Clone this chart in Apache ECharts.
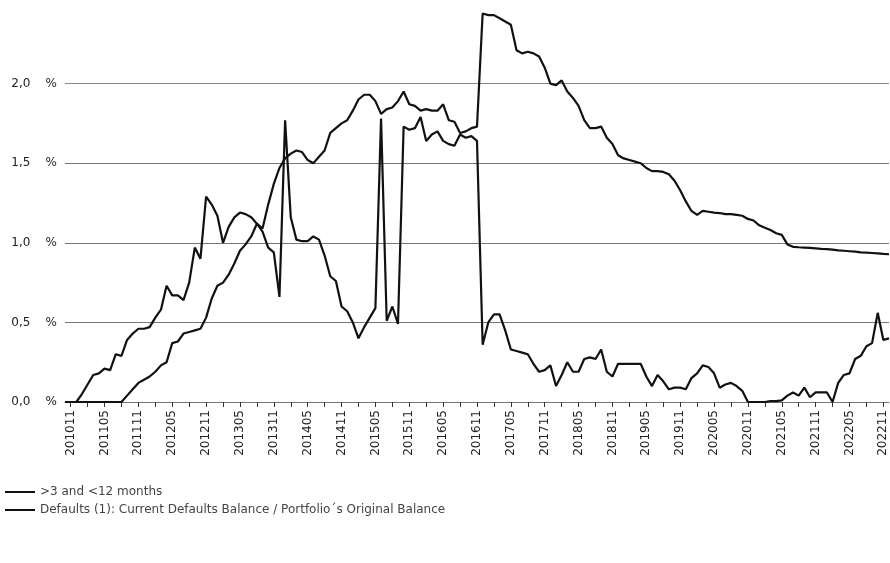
<!DOCTYPE html>
<html>
<head>
<meta charset="utf-8">
<script src="https://cdn.jsdelivr.net/npm/echarts@6/dist/echarts.min.js"></script>
<style>
  html, body { margin: 0; padding: 0; background: #fff; }
  #chart { width: 890px; height: 563px; }
</style>
</head>
<body>
<div id="chart"></div>
<script>
// Monthly reporting periods, 2010-10 .. 2022-12
const months = [];
for (let y = 2010, m = 10; y < 2023; ) {
  months.push(String(y) + String(m).padStart(2, '0'));
  m++; if (m > 12) { m = 1; y++; }
}

const seriesNames = ['>3 and <12 months', 'Defaults (1): Current Defaults Balance / Portfolio´s Original Balance'];

// Arrears between 3 and 12 months, % of portfolio
const arrears3to12 = [
  0, 0, 0, 0.05, 0.11, 0.17, 0.18, 0.21, 0.20, 0.30,
  0.29, 0.39, 0.43, 0.46, 0.46, 0.47, 0.53, 0.58, 0.73, 0.67,
  0.67, 0.64, 0.75, 0.97, 0.90, 1.29, 1.24, 1.17, 1.00, 1.10,
  1.16, 1.19, 1.18, 1.16, 1.12, 1.07, 0.97, 0.94, 0.66, 1.77,
  1.16, 1.02, 1.01, 1.01, 1.04, 1.02, 0.92, 0.79, 0.76, 0.60,
  0.57, 0.50, 0.40, 0.47, 0.53, 0.59, 1.78, 0.51, 0.60, 0.49,
  1.73, 1.71, 1.72, 1.79, 1.64, 1.68, 1.70, 1.64, 1.62, 1.61,
  1.68, 1.66, 1.67, 1.64, 0.36, 0.50, 0.55, 0.55, 0.45, 0.33,
  0.32, 0.31, 0.30, 0.24, 0.19, 0.20, 0.23, 0.10, 0.17, 0.25,
  0.19, 0.19, 0.27, 0.28, 0.27, 0.33, 0.19, 0.16, 0.24, 0.24,
  0.24, 0.24, 0.24, 0.16, 0.10, 0.17, 0.13, 0.08, 0.09, 0.09,
  0.08, 0.15, 0.18, 0.23, 0.22, 0.18, 0.09, 0.11, 0.12, 0.10,
  0.07, 0.00, 0.00, 0.00, 0.00, 0.005, 0.005, 0.01, 0.04, 0.06,
  0.04, 0.09, 0.03, 0.06, 0.06, 0.06, 0.00, 0.12, 0.17, 0.18,
  0.27, 0.29, 0.35, 0.37, 0.56, 0.39, 0.40
];

// Current defaults balance over original portfolio balance, %
const defaultsRatio = [
  0, 0, 0, 0, 0, 0, 0, 0, 0, 0,
  0, 0.04, 0.08, 0.12, 0.14, 0.16, 0.19, 0.23, 0.25, 0.37,
  0.38, 0.43, 0.44, 0.45, 0.46, 0.53, 0.65, 0.73, 0.75, 0.80,
  0.87, 0.95, 0.99, 1.04, 1.12, 1.09, 1.24, 1.37, 1.47, 1.53,
  1.56, 1.58, 1.57, 1.52, 1.50, 1.54, 1.58, 1.69, 1.72, 1.75,
  1.77, 1.83, 1.90, 1.93, 1.93, 1.89, 1.81, 1.84, 1.85, 1.89,
  1.95, 1.87, 1.86, 1.83, 1.84, 1.83, 1.83, 1.87, 1.77, 1.76,
  1.69, 1.70, 1.72, 1.73, 2.44, 2.43, 2.43, 2.41, 2.39, 2.37,
  2.21, 2.19, 2.20, 2.19, 2.17, 2.10, 2.00, 1.99, 2.02, 1.95,
  1.91, 1.86, 1.77, 1.72, 1.72, 1.73, 1.66, 1.62, 1.55, 1.53,
  1.52, 1.51, 1.50, 1.47, 1.45, 1.45, 1.445, 1.43, 1.39, 1.33,
  1.26, 1.20, 1.175, 1.20, 1.195, 1.19, 1.187, 1.18, 1.18, 1.175,
  1.17, 1.15, 1.14, 1.11, 1.095, 1.08, 1.06, 1.05, 0.99, 0.975,
  0.972, 0.97, 0.968, 0.965, 0.962, 0.96, 0.957, 0.953, 0.95, 0.947,
  0.944, 0.94, 0.938, 0.936, 0.933, 0.93, 0.928
];

const yTicks = [0, 0.5, 1.0, 1.5, 2.0];

const font = 'DejaVu Sans';
const chart = echarts.init(document.getElementById('chart'), null, { renderer: 'canvas' });

chart.setOption({
  animation: false,
  backgroundColor: '#ffffff',
  grid: { left: 65, right: 1, top: 4, bottom: 161 },
  legend: {
    orient: 'vertical',
    left: 0,
    top: 481,
    icon: 'rect',
    itemWidth: 30,
    itemHeight: 2,
    itemGap: 6,
    textStyle: { fontFamily: font, fontSize: 12, color: '#444' },
    data: seriesNames
  },
  xAxis: {
    type: 'category',
    data: months,
    boundaryGap: false,
    axisLine: { show: true, lineStyle: { color: '#777', width: 1 } },
    axisTick: {
      show: true,
      length: 5,
      interval: (i) => (i - 1) % 3 === 0,
      lineStyle: { color: '#333', width: 1 }
    },
    axisLabel: {
      interval: (i) => (i - 1) % 6 === 0,
      rotate: 90,
      margin: 8,
      fontFamily: font,
      fontSize: 12,
      color: '#222'
    },
    splitLine: { show: false }
  },
  yAxis: {
    type: 'value',
    min: 0,
    max: 2.5,
    interval: 0.5,
    axisLine: { show: false },
    axisTick: { show: false },
    axisLabel: {
      margin: 8,
      fontFamily: font,
      fontSize: 12,
      color: '#222',
      formatter: (v) => (yTicks.indexOf(v) >= 0 ? v.toFixed(1).replace('.', ',') + '    %' : '')
    },
    splitLine: {
      show: true,
      lineStyle: { color: ['#777', '#777', '#777', '#777', '#888', 'rgba(0,0,0,0)'], width: 1 }
    }
  },
  series: [
    {
      name: seriesNames[0],
      type: 'line',
      data: arrears3to12,
      symbol: 'none',
      lineStyle: { color: '#111', width: 2.2 },
      itemStyle: { color: '#111' }
    },
    {
      name: seriesNames[1],
      type: 'line',
      data: defaultsRatio,
      symbol: 'none',
      lineStyle: { color: '#111', width: 2.2 },
      itemStyle: { color: '#111' }
    }
  ]
});
</script>
</body>
</html>
